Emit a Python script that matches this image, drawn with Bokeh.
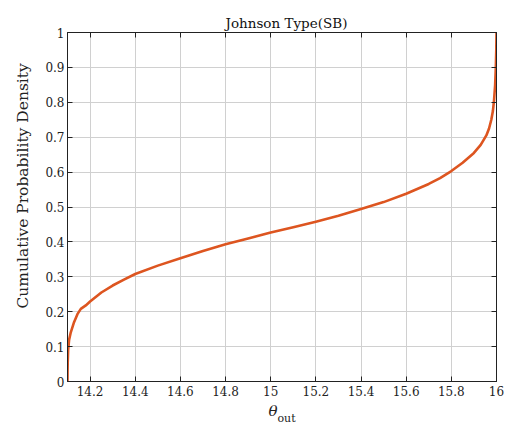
from bokeh.plotting import figure
from bokeh.models import Range1d, LinearAxis, FixedTicker, Title
from bokeh.embed import file_html
from bokeh.resources import INLINE

# ---- data ----
theta_out = [14.1, 14.1003, 14.101, 14.1028, 14.1072, 14.1146, 14.129, 14.144, 14.159,
             14.181, 14.2, 14.25, 14.3, 14.35, 14.4, 14.5, 14.6, 14.7, 14.8, 14.9,
             15.0, 15.1, 15.2, 15.3, 15.4, 15.5, 15.6, 15.7, 15.75, 15.8, 15.85,
             15.9, 15.93, 15.955, 15.967, 15.977, 15.984, 15.989, 15.994, 15.997,
             15.999, 16.0]
cdf = [0.0, 0.03, 0.055, 0.09, 0.12, 0.141, 0.17, 0.193, 0.208,
       0.218, 0.229, 0.255, 0.275, 0.292, 0.308, 0.332, 0.353, 0.374, 0.393, 0.41,
       0.427, 0.442, 0.458, 0.475, 0.494, 0.514, 0.538, 0.566, 0.583, 0.603, 0.627,
       0.655, 0.678, 0.705, 0.725, 0.75, 0.775, 0.805, 0.85, 0.9,
       0.95, 1.0]

x_ticks = [14.2, 14.4, 14.6, 14.8, 15.0, 15.2, 15.4, 15.6, 15.8, 16.0]
x_tick_labels = ["14.2", "14.4", "14.6", "14.8", "15", "15.2", "15.4", "15.6", "15.8", "16"]
y_ticks = [0.0, 0.1, 0.2, 0.3, 0.4, 0.5, 0.6, 0.7, 0.8, 0.9, 1.0]
y_tick_labels = ["0", "0.1", "0.2", "0.3", "0.4", "0.5", "0.6", "0.7", "0.8", "0.9", "1"]

title_text = "Johnson Type(SB)"
y_label_text = "Cumulative Probability Density"
x_label_main = "θ"
x_label_sub = "out"

FONT = "DejaVu Serif"
LINE_COLOR = "#dd5520"
INK = "#222222"

p = figure(width=507, height=424,
           x_range=Range1d(14.1, 16.0), y_range=Range1d(0.0, 1.0),
           output_backend="svg", toolbar_location=None,
           min_border_left=67, min_border_right=11,
           min_border_top=32, min_border_bottom=41)
p.background_fill_color = "white"
p.border_fill_color = "white"
p.outline_line_color = INK
p.outline_line_width = 1

p.line(theta_out, cdf, line_color=LINE_COLOR, line_width=2.6, line_join="round")

# main axes
for ax, ticks, labels in ((p.xaxis[0], x_ticks, x_tick_labels),
                          (p.yaxis[0], y_ticks, y_tick_labels)):
    ax.ticker = FixedTicker(ticks=ticks)
    ax.major_label_overrides = {t: l for t, l in zip(ticks, labels)}
    ax.major_tick_in = 5
    ax.major_tick_out = 0
    ax.minor_tick_in = 0
    ax.minor_tick_out = 0
    ax.axis_line_color = INK
    ax.major_tick_line_color = INK
    ax.major_label_text_font = FONT
    ax.major_label_text_font_size = "12px"
    ax.major_label_text_color = INK

p.xaxis[0].major_label_standoff = 4
p.yaxis[0].major_label_standoff = 3

# mirrored tick marks on top and right
top = LinearAxis(ticker=FixedTicker(ticks=x_ticks), major_tick_in=5, major_tick_out=0,
                 minor_tick_in=0, minor_tick_out=0, major_label_text_color=None,
                 major_label_standoff=0, axis_line_color=INK,
                 major_tick_line_color=INK)
right = LinearAxis(ticker=FixedTicker(ticks=y_ticks),
                   major_tick_in=5, major_tick_out=0,
                   minor_tick_in=0, minor_tick_out=0, major_label_text_color=None,
                   major_label_standoff=0, axis_line_color=INK,
                   major_tick_line_color=INK)
p.add_layout(top, "above")
p.add_layout(right, "right")

p.xgrid.grid_line_color = "#d0d0d0"
p.ygrid.grid_line_color = "#d0d0d0"

# title
p.title.text = title_text
p.title.align = "left"
p.title.offset = 158
p.title.text_font = FONT
p.title.text_font_size = "13.5px"
p.title.text_font_style = "normal"
p.title.text_color = "#111111"
p.title.standoff = 4

# y label as a side title (allows offset along the axis)
p.add_layout(Title(text=y_label_text, align="left", offset=73, standoff=22,
                   text_font=FONT, text_font_size="15.5px", text_font_style="normal",
                   text_color=INK), "left")

# x label: theta with subscript "out"
p.add_layout(Title(text=x_label_main, align="left", offset=201, standoff=6,
                   vertical_align="top",
                   text_font=FONT, text_font_size="15px", text_font_style="italic",
                   text_color=INK), "below")
p.add_layout(Title(text=x_label_sub, align="left", offset=210, standoff=-25,
                   vertical_align="top",
                   text_font=FONT, text_font_size="11px", text_font_style="normal",
                   text_color=INK), "below")

open("out.html", "w").write(file_html(p, INLINE))
